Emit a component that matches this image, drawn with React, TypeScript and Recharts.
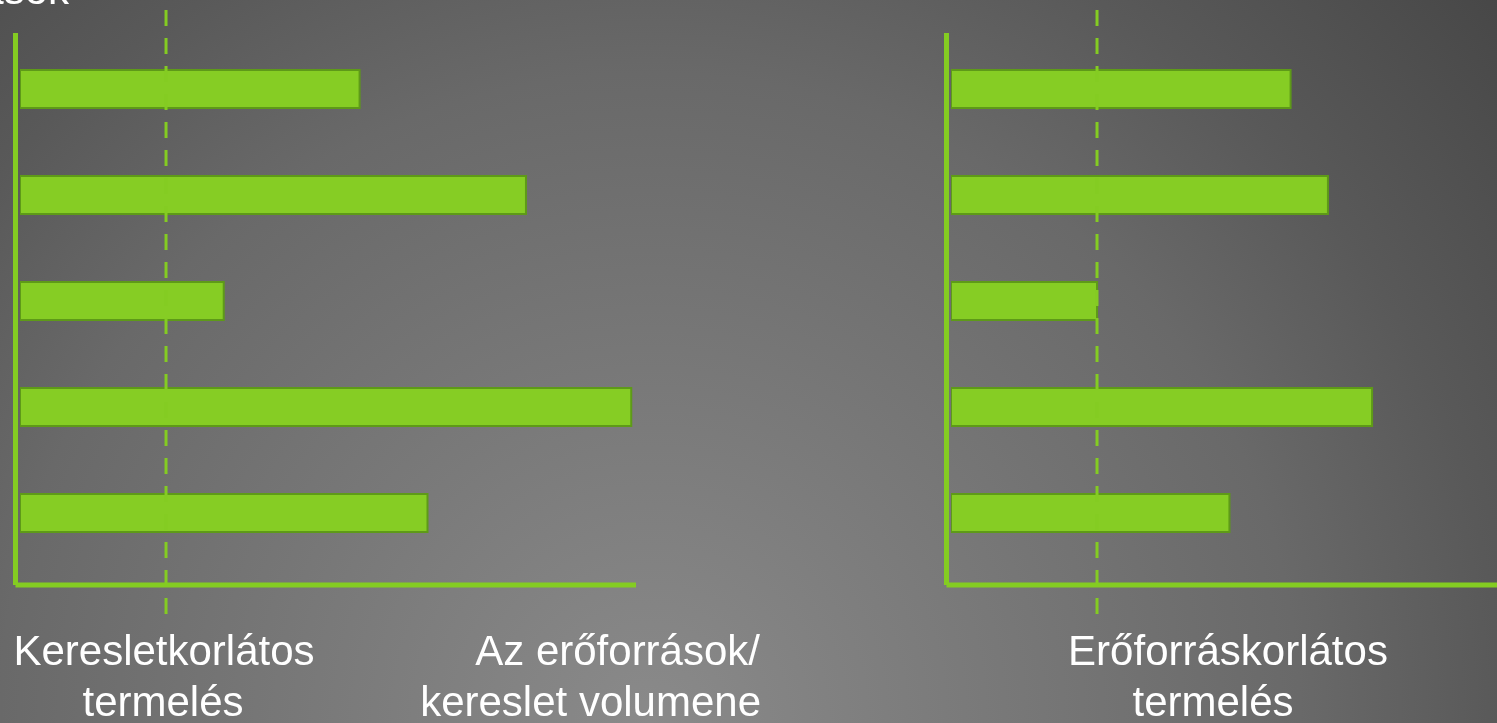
import React from "react";
import { BarChart, Bar, XAxis, YAxis, ReferenceLine } from "recharts";

const GREEN = "#84cc22";
const BAR_FILL = "#86cd24";
const BAR_EDGE = "#5e9a18";
const FONT = '"Liberation Sans", Arial, Helvetica, sans-serif';

// five products, same order in both panels
const CATEGORIES = ["1", "2", "3", "4", "5"];
const DEMAND_LIMITED = [5, 7.45, 3, 9, 6];
const RESOURCE_LIMITED = [5, 5.55, 2.15, 6.2, 4.1];
const CAPACITY = 2.15;
const AXIS_MAX = 9.07;

const LEFT_LABEL = ["Keresletkorlátos", "termelés"];
const MIDDLE_LABEL = ["Az erőforrások/", "kereslet volumene"];
const RIGHT_LABEL = ["Erőforráskorlátos", "termelés"];
const TOP_LABEL = "Erőforrások";

const W = 1497;
const H = 723;

type Row = { name: string; value: number };

const toRows = (vals: number[]): Row[] => CATEGORIES.map((name, i) => ({ name, value: vals[i] }));

// dashed capacity line runs a bit past the plot area on both ends
const CapacityLine = (props: any) => {
  const { x1, y1, x2, y2 } = props;
  const top = Math.min(y1, y2) - 23;
  const bottom = Math.max(y1, y2) + 29;
  return (
    <line
      x1={x1}
      y1={top}
      x2={x2}
      y2={bottom}
      stroke={GREEN}
      strokeWidth={3}
      strokeDasharray="16 12"
    />
  );
};

const Panel: React.FC<{ values: number[]; left: number }> = ({ values, left }) => (
  <div style={{ position: "absolute", left, top: 0 }}>
    <BarChart
      width={660}
      height={H}
      layout="vertical"
      data={toRows(values)}
      margin={{ top: 33, right: 24, bottom: 137, left: 14.5 }}
      barSize={38}
    >
      <XAxis
        type="number"
        domain={[0, AXIS_MAX]}
        allowDataOverflow
        height={1}
        tick={false}
        tickLine={false}
        padding={{ left: 4.5, right: 0 }}
        axisLine={{ stroke: GREEN, strokeWidth: 5 }}
      />
      <YAxis
        type="category"
        dataKey="name"
        width={1}
        tick={false}
        tickLine={false}
        padding={{ top: 3, bottom: 19 }}
        axisLine={{ stroke: GREEN, strokeWidth: 5 }}
      />
      <Bar
        dataKey="value"
        fill={BAR_FILL}
        stroke={BAR_EDGE}
        strokeWidth={2}
        isAnimationActive={false}
      />
      <ReferenceLine x={CAPACITY} shape={CapacityLine} />
    </BarChart>
  </div>
);

const Caption: React.FC<{ lines: string[]; xs: number[]; anchor?: string }> = ({
  lines,
  xs,
  anchor = "middle",
}) => (
  <>
    {lines.map((t, i) => (
      <text
        key={t}
        x={xs[i]}
        y={665 + i * 51}
        textAnchor={anchor as any}
        fontSize={42}
        fill="#ffffff"
        fontFamily={FONT}
      >
        {t}
      </text>
    ))}
  </>
);

export default function App() {
  return (
    <div
      style={{
        position: "fixed",
        left: 0,
        top: 0,
        width: W,
        height: H,
        overflow: "hidden",
        background:
          "radial-gradient(circle at 650px 723px, #8a8a8a 0px, #696969 650px, #595959 850px, #474747 1120px)",
      }}
    >
      <Panel values={DEMAND_LIMITED} left={0} />
      <Panel values={RESOURCE_LIMITED} left={931} />
      <svg width={W} height={H} style={{ position: "absolute", left: 0, top: 0 }}>
        <text x={69} y={4} textAnchor="end" fontSize={42} fill="#ffffff" fontFamily={FONT}>
          {TOP_LABEL}
        </text>
        <Caption lines={LEFT_LABEL} xs={[164, 163]} />
        <Caption lines={MIDDLE_LABEL} xs={[760, 761]} anchor="end" />
        <Caption lines={RIGHT_LABEL} xs={[1228, 1213]} />
      </svg>
    </div>
  );
}
